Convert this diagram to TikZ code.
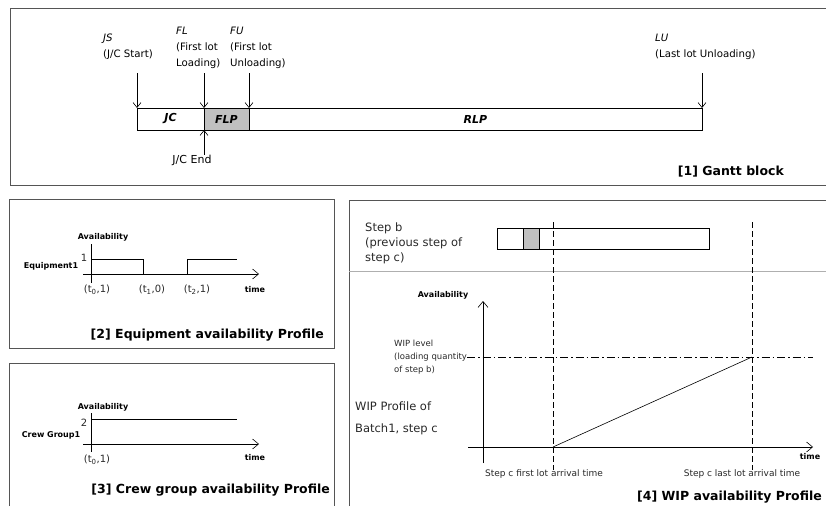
\documentclass[tikz,border=0pt]{standalone}
\usepackage{fontspec}
\setmainfont{DejaVu Sans}
\usepackage{xcolor}
\usepackage{tikz}
\usetikzlibrary{arrows.meta, positioning, calc}
\definecolor{framegray}{RGB}{85, 85, 85}
\definecolor{rulegray}{RGB}{175, 175, 175}
\definecolor{flpgray}{RGB}{192, 192, 192}
\definecolor{textdark}{RGB}{40, 40, 40}
\tikzset{
    panel/.style={draw=framegray, line width=0.9pt},
    separator/.style={draw=rulegray, line width=0.9pt},
    bar/.style={rectangle, draw=black, fill=white, line width=0.8pt, minimum height=22, inner sep=0pt, outer sep=0pt, font=\fontsize{11}{13}\selectfont\bfseries\itshape},
    minibar/.style={rectangle, draw=black, fill=white, line width=0.8pt, minimum height=21, inner sep=0pt, outer sep=0pt},
    marker/.style={anchor=north west, align=left, inner sep=0pt, font=\fontsize{10.2}{16}\selectfont},
    caption/.style={inner sep=0pt, font=\fontsize{11}{13}\selectfont},
    paneltitle/.style={anchor=east, inner sep=0pt, font=\fontsize{12.5}{15}\selectfont\bfseries},
    axislabel/.style={inner sep=0pt, font=\fontsize{8}{10}\selectfont\bfseries},
    ticklabel/.style={inner sep=0pt, text=textdark, font=\fontsize{10}{12}\selectfont},
    sidetext/.style={anchor=north west, align=left, inner sep=0pt, text=textdark, font=\fontsize{11.5}{15}\selectfont},
    wiptext/.style={anchor=west, align=left, inner sep=0pt, text=textdark, font=\fontsize{8.5}{13.3}\selectfont},
    arrivaltext/.style={inner sep=0pt, text=textdark, font=\fontsize{9}{11}\selectfont},
    arrow/.style={line width=0.6pt, -{Straight Barb[length=5pt, width=8pt]}},
    axis/.style={line width=0.6pt, -{Straight Barb[length=6pt, width=10pt]}},
    axisline/.style={line width=0.6pt},
    profile/.style={line width=0.6pt},
    guide/.style={line width=0.6pt, dash pattern=on 6pt off 3pt},
    dashdot/.style={line width=0.6pt, dash pattern=on 8pt off 3pt on 1.5pt off 3pt}
}
\begin{document}
\begin{tikzpicture}[x=1pt, y=-1pt]
    \useasboundingbox (0,0) rectangle (826,506);

    \draw [panel] (826,8) -- (10,8) -- (10,185) -- (826,185);
    \draw [panel] (9,199) rectangle (334,348);
    \draw [panel] (9,506) -- (9,363) -- (334,363) -- (334,506);
    \draw [panel] (349,506) -- (349,200) -- (826,200);
    \draw [separator] (349,271) -- (826,271);

    % [1] Gantt block
    \node (jc) [bar, minimum width=67, anchor=west] at (137,119) {JC};
    \node (flp) [bar, fill=flpgray, minimum width=45, right=0pt of jc] {FLP};
    \node (rlp) [bar, minimum width=453, right=0pt of flp] {RLP};

    \node (jslabel) [marker] at (103,34) {\textit{JS}\\(J/C Start)};
    \node (fllabel) [marker] at (176,27) {\textit{FL}\\(First lot\\Loading)};
    \node (fulabel) [marker] at (230,27) {\textit{FU}\\(First lot\\Unloading)};
    \node (lulabel) [marker] at (655,34) {\textit{LU}\\(Last lot Unloading)};
    \node (jcend) [caption] at (192,160) {J/C End};
    \node (title1) [paneltitle] at (784,172) {[1] Gantt block};

    \coordinate (jstop) at (137,73);
    \coordinate (fltop) at (204,73);
    \coordinate (futop) at (249,73);
    \coordinate (lutop) at (702,73);
    \draw [arrow] (jstop) -- (jc.north west);
    \draw [arrow] (fltop) -- (flp.north west);
    \draw [arrow] (futop) -- (rlp.north west);
    \draw [arrow] (lutop) -- (rlp.north east);
    \draw [arrow] (jcend.north -| jc.south east) -- (jc.south east);

    % [2] Equipment availability
    \coordinate (eqytop) at (91,244);
    \coordinate (eqybot) at (91,283);
    \coordinate (eqxl) at (83,274);
    \coordinate (eqxr) at (259,274);
    \draw [axisline] (eqytop) -- (eqybot);
    \draw [axis] (eqxl) -- (eqxr);
    \draw [profile] (91,259) -- (143,259) -- (143,274);
    \draw [profile] (187,274) -- (187,259) -- (237,259);
    \node (eqavail) [axislabel] at (103,237) {Availability};
    \node (eqone) [ticklabel] at (84,258) {1};
    \node (eqname) [axislabel] at (51,266) {Equipment1};
    \node (eqt0) [ticklabel] at (97,290) {(t\textsubscript{0},1)};
    \node (eqt1) [ticklabel] at (152,290) {(t\textsubscript{1},0)};
    \node (eqt2) [ticklabel] at (197,290) {(t\textsubscript{2},1)};
    \node (eqtime) [axislabel] at (255,290) {time};
    \node (title2) [paneltitle] at (324,335) {[2] Equipment availability Profile};

    % [3] Crew group availability
    \coordinate (cgytop) at (91,413);
    \coordinate (cgybot) at (91,452);
    \coordinate (cgxl) at (83,444);
    \coordinate (cgxr) at (259,444);
    \draw [axisline] (cgytop) -- (cgybot);
    \draw [axis] (cgxl) -- (cgxr);
    \draw [profile] (91,419) -- (237,419);
    \node (cgavail) [axislabel] at (103,407) {Availability};
    \node (cgtwo) [ticklabel] at (84,423) {2};
    \node (cgname) [axislabel] at (51,435) {Crew Group1};
    \node (cgt0) [ticklabel] at (97,460) {(t\textsubscript{0},1)};
    \node (cgtime) [axislabel] at (255,458) {time};
    \node (title3) [paneltitle] at (330,490) {[3] Crew group availability Profile};

    % [4] WIP availability
    \node (sbtext) [sidetext] at (365,223) {Step b\\(previous step of\\step c)};
    \node (sbjc) [minibar, minimum width=26, anchor=west] at (497,238.5) {};
    \node (sbflp) [minibar, fill=flpgray, minimum width=16, right=0pt of sbjc] {};
    \node (sbrlp) [minibar, minimum width=170, right=0pt of sbflp] {};

    \node (wipavail) [axislabel] at (443,295) {Availability};
    \node (wiplevel) [wiptext] at (394,357) {WIP level\\(loading quantity\\of step b)};

    \coordinate (wipytop) at (483,301);
    \coordinate (wipybot) at (483,463);
    \coordinate (wipxl) at (468,447);
    \coordinate (wipxr) at (813,447);
    \coordinate (firsttop) at (553,222);
    \coordinate (firstbot) at (553,470);
    \coordinate (lasttop) at (752,222);
    \coordinate (lastbot) at (752,470);
    \coordinate (firstarr) at (553,447);
    \coordinate (lastarr) at (wiplevel.east -| lasttop);
    \draw [axis] (wipybot) -- (wipytop);
    \draw [axis] (wipxl) -- (wipxr);
    \draw [guide] (firsttop) -- (firstbot);
    \draw [guide] (lasttop) -- (lastbot);
    \draw [profile] (firstarr) -- (lastarr);
    \draw [dashdot] (wiplevel.east) -- (wiplevel.east -| wipxr);

    \node (wipname) [sidetext, font=\fontsize{11.5}{21.5}\selectfont] at (355,402) {WIP Profile of\\Batch1, step c};
    \node (firstlabel) [arrivaltext] at (544,474) {Step c first lot arrival time};
    \node (lastlabel) [arrivaltext] at (742,474) {Step c last lot arrival time};
    \node (wiptime) [axislabel] at (810,457) {time};
    \node (title4) [paneltitle] at (822,497) {[4] WIP availability Profile};
\end{tikzpicture}
\end{document}
